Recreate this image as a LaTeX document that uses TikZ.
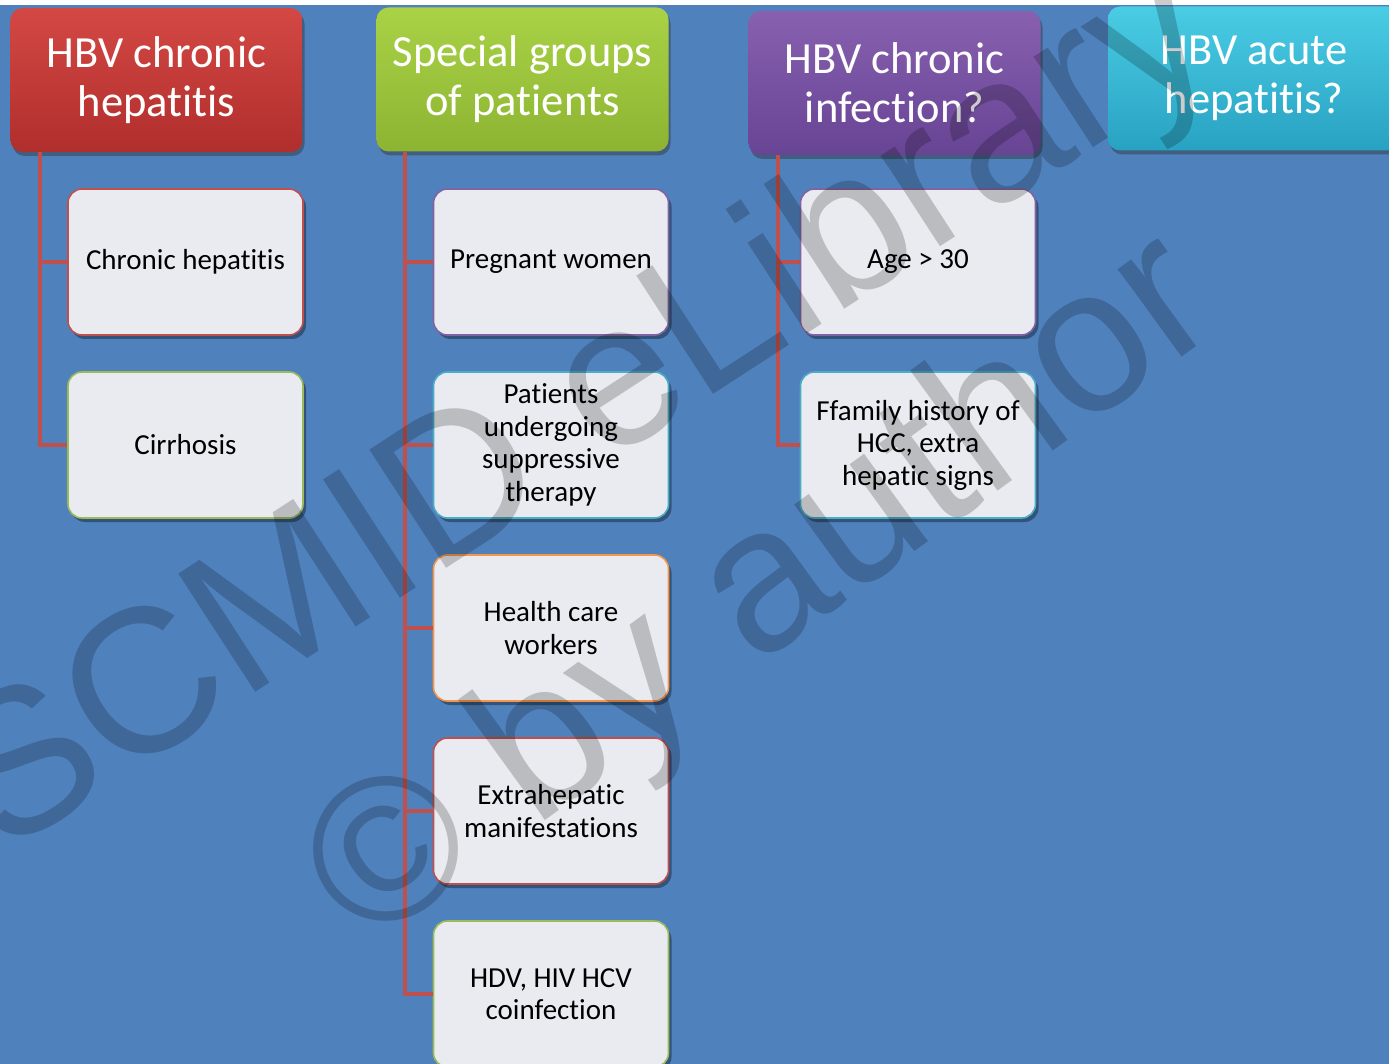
\documentclass[tikz,border=0pt]{standalone}
\usepackage{fontspec}
\setmainfont{Carlito}[Ligatures=NoCommon]
\newfontfamily\wmfont{Liberation Sans}
\usetikzlibrary{shadows}
\definecolor{bgblue}{RGB}{79,129,189}
\definecolor{boxfill}{RGB}{233,235,240}
\definecolor{cred}{RGB}{192,80,77}
\definecolor{cgreen}{RGB}{155,187,89}
\definecolor{cpurple}{RGB}{128,100,162}
\definecolor{ccyan}{RGB}{75,172,198}
\definecolor{corange}{RGB}{247,150,70}
\definecolor{conncol}{RGB}{192,80,77}
\tikzset{
  header/.style={rectangle, rounded corners=12pt, minimum width=292pt, minimum height=144pt,
    text=white, align=center, inner sep=0pt,
    font=\fontsize{44.5}{49}\selectfont,
    drop shadow={shadow xshift=2pt, shadow yshift=-4pt, opacity=0.45, fill=black!80}},
  child/.style={rectangle, rounded corners=14pt, minimum width=235pt, minimum height=146pt,
    fill=boxfill, line width=1.6pt, align=center, inner sep=0pt,
    font=\fontsize{29}{32.5}\selectfont, text=black,
    drop shadow={shadow xshift=3pt, shadow yshift=-4pt, opacity=0.35, fill=black}},
  conn/.style={draw=conncol, line width=4pt},
  wmark/.style={text=black, text opacity=0.2, font=\wmfont\fontsize{205}{205}\selectfont, inner sep=0pt}
}
\begin{document}
\begin{tikzpicture}[x=1pt, y=-1pt]
\clip (0,0) rectangle (1389,1064);
\fill[white] (0,0) rectangle (1389,1064);
\fill[bgblue] (0,5) rectangle (1389,1064);

% headers
\node[header, top color={rgb,255:red,212;green,72;blue,68}, bottom color={rgb,255:red,176;green,46;blue,44}]
  (h1) at (156.5,80) {HBV chronic\\hepatitis};
\node[header, top color={rgb,255:red,170;green,210;blue,70}, bottom color={rgb,255:red,140;green,180;blue,50}]
  (h2) at (522.5,79.5) {Special groups\\of patients};
\node[header, top color={rgb,255:red,136;green,96;blue,176}, bottom color={rgb,255:red,104;green,68;blue,148}]
  (h3) at (894.5,83) {HBV chronic\\infection?};
\node[header, top color={rgb,255:red,74;green,204;blue,228}, bottom color={rgb,255:red,40;green,162;blue,194}]
  (h4) at (1254,78.5) {HBV acute\\hepatitis?};

% children column 1
\node[child, draw=cred] (c1a) at (185.5,262) {Chronic hepatitis};
\node[child, draw=cgreen] (c1b) at (185.5,445) {Cirrhosis};
% column 2
\node[child, draw=cpurple] (c2a) at (551,262) {Pregnant women};
\node[child, draw=ccyan] (c2b) at (551,445) {Patients\\undergoing\\suppressive\\therapy};
\node[child, draw=corange] (c2c) at (551,628) {Health care\\workers};
\node[child, draw=cred] (c2d) at (551,811) {Extrahepatic\\manifestations};
\node[child, draw=cgreen] (c2e) at (551,994) {HDV, HIV HCV\\coinfection};
% column 3
\node[child, draw=cpurple] (c3a) at (918,262) {Age > 30};
\node[child, draw=ccyan] (c3b) at (918,445) {Ffamily history of\\HCC, extra\\hepatic signs};

% connectors
\coordinate (r1) at ([xshift=29.5pt]h1.south west);
\coordinate (r2) at ([xshift=28.5pt]h2.south west);
\coordinate (r3) at ([xshift=29.5pt]h3.south west);
\draw[conn] (r1) |- (c1a.west);
\draw[conn] (r1) |- (c1b.west);
\draw[conn] (r2) |- (c2a.west);
\draw[conn] (r2) |- (c2b.west);
\draw[conn] (r2) |- (c2c.west);
\draw[conn] (r2) |- (c2d.west);
\draw[conn] (r2) |- (c2e.west);
\draw[conn] (r3) |- (c3a.west);
\draw[conn] (r3) |- (c3b.west);

% watermark
\node[wmark, rotate=33] (wm1) at (585,415) {SCMID eLibrary};
\node[wmark, rotate=36] (wm2) at (765,595) {\textcopyright\ by author};
\end{tikzpicture}
\end{document}
